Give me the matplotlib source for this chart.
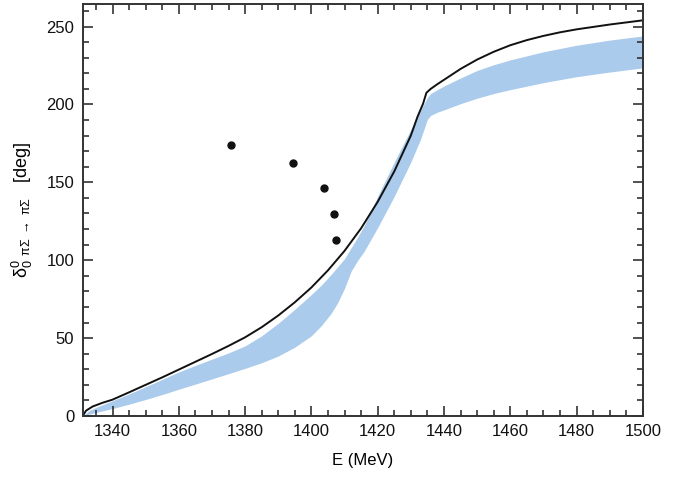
import numpy as np
import matplotlib
matplotlib.use("Agg")
import matplotlib.pyplot as plt
from matplotlib.ticker import MultipleLocator

plt.rcParams['font.family'] = ['Liberation Sans', 'DejaVu Sans']
plt.rcParams['mathtext.fontset'] = 'custom'
plt.rcParams['mathtext.rm'] = 'Liberation Sans'
plt.rcParams['mathtext.it'] = 'Liberation Sans'

# black curve
E_line = [1331, 1332, 1334, 1337, 1340, 1345, 1350, 1355, 1360, 1365, 1370,
          1375, 1380, 1385, 1390, 1395, 1400, 1405, 1410, 1415, 1420, 1425,
          1430, 1432, 1433.7, 1434.7, 1436, 1438, 1440, 1445, 1450, 1455,
          1460, 1465, 1470, 1475, 1480, 1490, 1500]
delta_line = [0, 3.4, 6.1, 8.5, 10.5, 15.2, 20, 24.8, 29.8, 34.8, 39.8,
              45, 50.5, 57, 64.5, 73, 82.5, 93.5, 106, 120.5, 137.5, 157,
              180, 192, 200.5, 207.5, 210, 213, 215.8, 222.8, 228.8, 233.8,
              238, 241.3, 244, 246.3, 248.2, 251.3, 254]

# blue band
E_band = [1331, 1333, 1335, 1340, 1345, 1350, 1355, 1360, 1365, 1370, 1375,
          1380, 1385, 1390, 1395, 1400, 1403, 1406, 1408, 1410, 1412, 1414,
          1416, 1420, 1425, 1430, 1433, 1435, 1436, 1438, 1440, 1445, 1450,
          1455, 1460, 1470, 1480, 1490, 1500]
band_lo = [0, 1.2, 2.3, 4.8, 7.6, 10.6, 13.8, 17.2, 20.5, 23.8, 27.2,
           30.6, 34.2, 38.5, 44.2, 51.5, 58, 66, 73, 82, 93, 100,
           106, 121, 141, 163, 178, 190.5, 193, 195, 196.5, 200.5, 204,
           207, 209.5, 214, 217.8, 220.8, 223.5]
band_hi = [0, 3.5, 5.5, 9.8, 14.2, 18.8, 23.5, 28.3, 32.5, 36.5, 40.5,
           45, 51.5, 59.5, 68.5, 78, 84, 91, 96, 101, 108, 115,
           122.5, 141, 163, 184, 196.5, 204.5, 207, 209.5, 211.8, 217, 221.8,
           225.5, 228.6, 233.8, 238, 241.3, 244]

# data points
E_pts = [1375.7, 1394.4, 1403.9, 1406.9, 1407.3]
delta_pts = [174.2, 162.2, 146.4, 129.7, 113.2]

fig = plt.figure(figsize=(6.89, 4.78), dpi=100)
ax = fig.add_axes([0.120, 0.1297, 0.813, 0.862])

ax.fill_between(E_band, band_lo, band_hi, color='#aacbec', linewidth=0)
ax.plot(E_line, delta_line, color='#111111', linewidth=1.4)
ax.plot(E_pts, delta_pts, 'o', color='#111111', markersize=5)

ax.set_xlim(1331, 1500)
ax.set_ylim(0, 264.5)
ax.xaxis.set_major_locator(MultipleLocator(20))
ax.xaxis.set_minor_locator(MultipleLocator(5))
ax.yaxis.set_major_locator(MultipleLocator(50))
ax.yaxis.set_minor_locator(MultipleLocator(10))
ax.tick_params(which='both', direction='in', top=True, right=True,
               labelsize=12, colors='#222222', labelcolor='#111111', width=1.1)
ax.tick_params(which='major', length=7, pad=6)
ax.tick_params(which='minor', length=4)
for s in ax.spines.values():
    s.set_linewidth(1.4)
    s.set_color('#333333')

ax.set_xlabel('E (MeV)', fontsize=12, labelpad=10)
ax.set_ylabel(r'$\mathrm{\delta}^{0}_{0}$ $_{\mathrm{\pi\Sigma\ \rightarrow\ \pi\Sigma}}$   [deg]',
              fontsize=13, labelpad=8)

fig.savefig('out.png', dpi=100)
